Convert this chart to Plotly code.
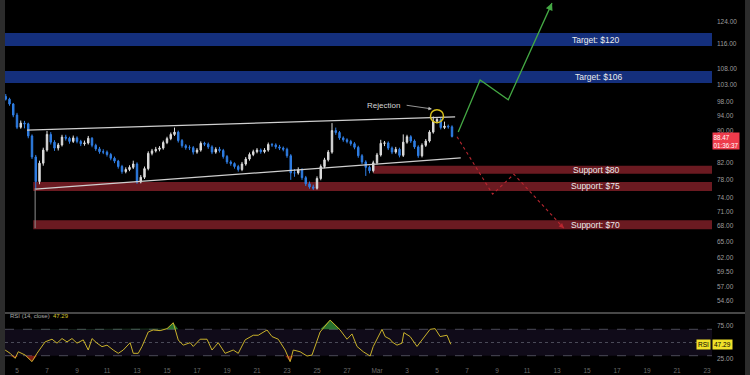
import math
import pandas as pd
import plotly.graph_objects as go

# ---------------- data ----------------
candle_start = "2025-02-04 06:00"
candle_freq = "6h"

opens = [99.5, 98.7, 97.3, 94.2, 90.9, 92.0, 91.8, 88.6, 83.3, 77.5,
         81.8, 85.0, 89.0, 87.0, 85.5, 86.3, 88.3, 88.0, 87.2, 88.1,
         87.2, 86.6, 86.8, 88.0, 86.2, 85.3, 84.6, 84.5, 83.9, 83.0,
         82.3, 81.0, 79.8, 80.3, 80.8, 81.6, 77.4, 78.5, 80.5, 84.2,
         84.8, 85.2, 85.5, 86.9, 87.9, 89.0, 89.6, 87.4, 86.1, 85.6,
         85.6, 84.5, 85.0, 86.7, 86.5, 85.8, 84.5, 85.2, 84.9, 83.4,
         82.1, 81.7, 81.0, 80.3, 81.6, 82.8, 83.9, 84.6, 85.0, 84.6,
         85.0, 86.4, 86.3, 85.8, 85.5, 85.2, 83.6, 79.5, 79.5, 80.2,
         78.4, 77.0, 76.3, 76.0, 78.2, 81.0, 82.6, 84.5, 90.0, 89.5,
         88.1, 87.6, 87.2, 86.6, 85.7, 83.6, 82.1, 80.8, 80.0, 81.9,
         83.8, 86.7, 86.8, 85.5, 84.5, 85.2, 83.7, 87.0, 88.4, 87.3,
         85.8, 83.6, 86.2, 87.3, 89.6, 92.5, 93.0, 90.8, 91.2, 91.0]
highs = [100.2, 99.1, 97.6, 94.8, 92.7, 92.6, 92.1, 89.0, 83.8, 82.4,
         85.6, 89.9, 89.6, 87.5, 86.8, 88.9, 88.9, 88.4, 88.7, 88.5,
         87.6, 87.4, 88.6, 88.3, 86.6, 85.8, 85.2, 84.9, 84.3, 83.4,
         82.6, 81.4, 80.8, 81.3, 82.4, 82.0, 79.0, 81.0, 84.7, 85.3,
         85.8, 86.0, 87.4, 88.4, 89.5, 90.8, 90.0, 87.8, 86.5, 86.2,
         86.0, 85.5, 87.2, 87.1, 86.9, 86.2, 85.7, 85.8, 85.3, 83.8,
         82.5, 82.0, 81.4, 82.1, 83.3, 84.4, 85.1, 85.5, 85.4, 85.5,
         86.9, 86.8, 86.7, 86.3, 85.9, 85.6, 84.0, 80.4, 80.8, 80.6,
         78.8, 77.5, 76.8, 78.7, 81.5, 83.1, 85.0, 92.0, 90.8, 89.9,
         88.5, 88.0, 87.6, 87.0, 86.1, 84.0, 82.5, 81.2, 82.4, 84.3,
         87.6, 87.3, 87.2, 85.9, 85.8, 85.6, 89.0, 88.9, 88.8, 87.7,
         86.2, 86.7, 87.8, 90.1, 93.8, 93.6, 93.4, 92.4, 91.6, 91.4]
lows = [98.3, 96.8, 93.6, 90.4, 90.5, 90.6, 88.0, 82.8, 75.8, 76.9,
        81.2, 84.6, 86.4, 84.8, 84.9, 85.9, 87.4, 86.6, 86.8, 86.7,
        86.0, 86.1, 86.4, 85.7, 84.8, 84.1, 84.0, 83.4, 82.5, 81.8,
        80.5, 79.3, 79.4, 79.9, 80.4, 77.0, 77.1, 78.1, 80.1, 83.7,
        84.4, 84.7, 85.1, 86.5, 87.5, 88.6, 86.9, 85.6, 85.1, 85.0,
        83.9, 84.1, 84.6, 86.0, 85.3, 84.0, 84.1, 84.4, 82.9, 81.6,
        81.2, 80.5, 79.8, 79.9, 81.2, 82.4, 83.5, 84.2, 84.1, 84.2,
        84.6, 85.8, 85.3, 85.0, 84.7, 83.1, 77.9, 78.6, 79.1, 77.9,
        76.5, 75.9, 75.6, 75.7, 77.8, 80.6, 82.2, 84.1, 88.9, 87.6,
        87.1, 86.7, 86.1, 85.2, 83.1, 81.6, 78.8, 79.4, 79.6, 81.5,
        83.4, 86.0, 85.0, 84.0, 84.1, 83.2, 83.3, 86.6, 86.8, 85.3,
        83.1, 83.2, 85.8, 86.9, 89.2, 92.0, 90.3, 90.4, 90.5, 88.2]
closes = [98.7, 97.3, 94.2, 90.9, 92.0, 91.8, 88.6, 83.3, 77.5, 81.8,
          85.0, 89.0, 87.0, 85.5, 86.3, 88.3, 88.0, 87.2, 88.1, 87.2,
          86.6, 86.8, 88.0, 86.2, 85.3, 84.6, 84.5, 83.9, 83.0, 82.3,
          81.0, 79.8, 80.3, 80.8, 81.6, 77.4, 78.5, 80.5, 84.2, 84.8,
          85.2, 85.5, 86.9, 87.9, 89.0, 89.6, 87.4, 86.1, 85.6, 85.6,
          84.5, 85.0, 86.7, 86.5, 85.8, 84.5, 85.2, 84.9, 83.4, 82.1,
          81.7, 81.0, 80.3, 81.6, 82.8, 83.9, 84.6, 85.0, 84.6, 85.0,
          86.4, 86.3, 85.8, 85.5, 85.2, 83.6, 79.5, 79.5, 80.2, 78.4,
          77.0, 76.3, 76.0, 78.2, 81.0, 82.6, 84.5, 90.0, 89.5, 88.1,
          87.6, 87.2, 86.6, 85.7, 83.6, 82.1, 80.8, 80.0, 81.9, 83.8,
          86.7, 86.8, 85.5, 84.5, 85.2, 83.7, 87.0, 88.4, 87.3, 85.8,
          83.6, 86.2, 87.3, 89.6, 92.5, 93.0, 90.8, 91.2, 91.0, 88.47]

rsi_times = ["2025-02-04 05:00", "2025-02-04 13:00", "2025-02-04 21:00", "2025-02-05 02:00",
             "2025-02-05 13:00", "2025-02-06 00:00", "2025-02-06 08:00", "2025-02-06 21:00",
             "2025-02-07 08:00", "2025-02-07 16:00", "2025-02-08 00:00", "2025-02-08 08:00",
             "2025-02-08 16:00", "2025-02-09 00:00", "2025-02-09 10:00", "2025-02-09 18:00",
             "2025-02-10 00:00", "2025-02-10 08:00", "2025-02-10 16:00", "2025-02-11 00:00",
             "2025-02-11 10:00", "2025-02-11 18:00", "2025-02-12 02:00", "2025-02-12 13:00",
             "2025-02-12 18:00", "2025-02-13 02:00", "2025-02-13 08:00", "2025-02-13 18:00",
             "2025-02-14 02:00", "2025-02-14 13:00", "2025-02-15 00:00", "2025-02-15 10:00",
             "2025-02-15 18:00", "2025-02-16 02:00", "2025-02-16 13:00", "2025-02-16 18:00",
             "2025-02-17 05:00", "2025-02-17 16:00", "2025-02-18 00:00", "2025-02-18 10:00",
             "2025-02-18 21:00", "2025-02-19 10:00", "2025-02-19 18:00", "2025-02-20 05:00",
             "2025-02-20 18:00", "2025-02-21 02:00", "2025-02-21 16:00", "2025-02-22 00:00",
             "2025-02-22 10:00", "2025-02-22 21:00", "2025-02-23 05:00", "2025-02-23 10:00",
             "2025-02-23 21:00", "2025-02-24 08:00", "2025-02-24 16:00", "2025-02-25 05:00",
             "2025-02-25 21:00", "2025-02-26 13:00", "2025-02-27 00:00", "2025-02-27 08:00",
             "2025-02-27 16:00", "2025-02-28 02:00", "2025-02-28 13:00", "2025-02-28 18:00",
             "2025-03-01 08:00", "2025-03-01 13:00", "2025-03-01 21:00", "2025-03-02 00:00",
             "2025-03-02 08:00", "2025-03-02 16:00", "2025-03-02 19:00", "2025-03-03 05:00",
             "2025-03-03 16:00", "2025-03-04 02:00", "2025-03-04 13:00", "2025-03-04 21:00",
             "2025-03-05 05:00", "2025-03-05 16:00", "2025-03-05 22:00"]
rsi_values = [38.6, 33.6, 26.0, 36.0, 31.0, 21.0, 33.6, 51.0,
              55.0, 49.0, 56.0, 51.0, 56.0, 49.0, 54.0, 38.6,
              56.0, 49.0, 43.7, 46.0, 38.6, 33.6, 38.6, 49.7,
              33.6, 33.6, 44.0, 66.0, 69.0, 68.0, 71.0, 80.0,
              53.8, 46.0, 49.7, 44.0, 55.0, 55.0, 38.6, 49.7,
              33.6, 38.6, 33.6, 54.0, 61.0, 61.0, 69.0, 59.0,
              55.0, 38.6, 21.0, 38.6, 36.0, 29.5, 31.0, 66.0,
              84.0, 69.0, 55.0, 63.0, 44.0, 36.0, 29.5, 44.0,
              70.0, 59.0, 55.0, 51.0, 46.0, 49.0, 65.0, 59.0,
              44.0, 56.0, 70.0, 71.0, 59.0, 61.0, 47.29]

# 86.00 sits under the last-price tag in the original, so it is not listed
price_ticks = [54.6, 57, 59.5, 62, 65, 68, 71, 74, 78, 82, 90, 94, 98, 103, 108, 116, 124, 132]
rsi_ticks = [25, 75]
date_ticks = ["2025-02-05", "2025-02-07", "2025-02-09", "2025-02-11", "2025-02-13", "2025-02-15",
              "2025-02-17", "2025-02-19", "2025-02-21", "2025-02-23", "2025-02-25", "2025-02-27",
              "2025-03-01", "2025-03-03", "2025-03-05", "2025-03-07", "2025-03-09", "2025-03-11",
              "2025-03-13", "2025-03-15", "2025-03-17", "2025-03-19", "2025-03-21", "2025-03-23"]
date_labels = ["5", "7", "9", "11", "13", "15", "17", "19", "21", "23", "25", "27",
               "Mar", "3", "5", "7", "9", "11", "13", "15", "17", "19", "21", "23"]

target_lows = [115.3, 103.5]
target_highs = [119.8, 107.2]
target_labels = ["Target: $120", "Target: $106"]

support_starts = ["2025-02-28 18:00", "2025-02-06 02:00", "2025-02-06 02:00"]
support_lows = [79.3, 75.4, 67.4]
support_highs = [81.2, 77.4, 69.2]
support_labels = ["Support $80", "Support: $75", "Support: $70"]

upper_line_t = ["2025-02-05 16:00", "2025-03-06 05:00"]
upper_line_p = [90.1, 93.7]
lower_line_t = ["2025-02-06 05:00", "2025-03-06 14:00"]
lower_line_p = [75.8, 83.1]
pivot_t = ["2025-02-06 05:00", "2025-02-06 05:00"]
pivot_p = [76.0, 67.6]

bull_t = ["2025-03-06 10:00", "2025-03-07 21:00", "2025-03-09 18:00", "2025-03-12 16:00"]
bull_p = [89.6, 104.4, 98.5, 130.8]
bear_t = ["2025-03-06 08:00", "2025-03-08 17:00", "2025-03-10 03:00", "2025-03-13 11:00"]
bear_p = [88.4, 74.7, 79.2, 67.6]

rejection_t = "2025-03-05 00:00"
rejection_p = 93.9
last_price = 88.47
countdown = "01:36:37"
rsi_last = 47.29

x_start = "2025-02-04 04:48"
x_end = "2025-03-23 08:00"

# ---------------- figure ----------------
times = pd.date_range(candle_start, periods=len(closes), freq=candle_freq)
L10 = math.log10

fig = go.Figure()

# RSI band
fig.add_shape(type="rect", xref="paper", yref="y2", x0=0, x1=1, y0=30, y1=70,
              fillcolor="rgba(126,87,194,0.13)", line_width=0, layer="below")
for lvl, d in [(70, "dash"), (50, "dot"), (30, "dash")]:
    fig.add_shape(type="line", xref="paper", yref="y2", x0=0, x1=1, y0=lvl, y1=lvl,
                  line=dict(color="#4a4a58", width=1, dash=d), layer="below")

# zones
for lo, hi in zip(target_lows, target_highs):
    fig.add_shape(type="rect", xref="paper", yref="y", x0=0, x1=1, y0=lo, y1=hi,
                  fillcolor="#142f7c", line_width=0, layer="below")
for st, lo, hi in zip(support_starts, support_lows, support_highs):
    fig.add_shape(type="rect", xref="x", yref="y", x0=st, x1=x_end, y0=lo, y1=hi,
                  fillcolor="#6b1a21", line_width=0, layer="below")

# pane separator and side strips
fig.add_shape(type="line", xref="paper", yref="paper", x0=0, x1=1.0467, y0=0.1425, y1=0.1425,
              line=dict(color="#474747", width=2))
fig.add_shape(type="rect", xref="paper", yref="paper", x0=-0.0071, x1=0, y0=-0.03, y1=1,
              fillcolor="#2c2c2c", line_width=0)
fig.add_shape(type="rect", xref="paper", yref="paper", x0=1.0467, x1=1.06, y0=-0.03, y1=1,
              fillcolor="#2c2c2c", line_width=0)

# channel lines
fig.add_trace(go.Scatter(x=upper_line_t, y=upper_line_p, mode="lines",
                         line=dict(color="#cfcfcf", width=1.3), hoverinfo="skip"))
fig.add_trace(go.Scatter(x=lower_line_t, y=lower_line_p, mode="lines",
                         line=dict(color="#cfcfcf", width=1.3), hoverinfo="skip"))
fig.add_trace(go.Scatter(x=pivot_t, y=pivot_p, mode="lines",
                         line=dict(color="#8f8f8f", width=1), hoverinfo="skip"))

# candles
fig.add_trace(go.Candlestick(
    x=times, open=opens, high=highs, low=lows, close=closes,
    increasing=dict(line=dict(color="#dcdcdc", width=1), fillcolor="#dcdcdc"),
    decreasing=dict(line=dict(color="#2f7de3", width=1), fillcolor="#2f7de3"),
    whiskerwidth=0, hoverinfo="skip"))

# scenario paths
fig.add_trace(go.Scatter(x=bull_t, y=bull_p, mode="lines",
                         line=dict(color="#44a844", width=1.3), hoverinfo="skip"))
fig.add_trace(go.Scatter(x=bear_t, y=bear_p, mode="lines",
                         line=dict(color="#b8262f", width=1.1, dash="dot"), hoverinfo="skip"))

# rejection circle
fig.add_trace(go.Scatter(x=[rejection_t], y=[rejection_p], mode="markers",
                         marker=dict(symbol="circle-open", size=13, color="#d9c21c",
                                     line=dict(width=1.5, color="#d9c21c")), hoverinfo="skip"))

# RSI
base70 = [70] * len(rsi_values)
base30 = [30] * len(rsi_values)
fig.add_trace(go.Scatter(x=rsi_times, y=base70, yaxis="y2", mode="lines",
                         line=dict(width=0), hoverinfo="skip"))
fig.add_trace(go.Scatter(x=rsi_times, y=[max(v, 70) for v in rsi_values], yaxis="y2", mode="lines",
                         line=dict(width=0), fill="tonexty", fillcolor="rgba(60,170,70,0.65)",
                         hoverinfo="skip"))
fig.add_trace(go.Scatter(x=rsi_times, y=base30, yaxis="y2", mode="lines",
                         line=dict(width=0), hoverinfo="skip"))
fig.add_trace(go.Scatter(x=rsi_times, y=[min(v, 30) for v in rsi_values], yaxis="y2", mode="lines",
                         line=dict(width=0), fill="tonexty", fillcolor="rgba(190,40,30,0.65)",
                         hoverinfo="skip"))
fig.add_trace(go.Scatter(x=rsi_times, y=rsi_values, yaxis="y2", mode="lines",
                         line=dict(color="#c9b22a", width=1), hoverinfo="skip"))

ann = []
for lo, hi, txt, xp in zip(target_lows, target_highs, target_labels, [0.799, 0.803]):
    ann.append(dict(x=xp, xref="paper", y=L10(math.sqrt(lo * hi)), yref="y", text=txt,
                    showarrow=False, xanchor="left", font=dict(size=8.5, color="#ececec")))
for lo, hi, txt in zip(support_lows, support_highs, support_labels):
    ann.append(dict(x=0.873, xref="paper", y=L10(math.sqrt(lo * hi)), yref="y", text=txt,
                    showarrow=False, xanchor="right", font=dict(size=8.5, color="#ececec")))

# arrowheads
ann.append(dict(x=bull_t[-1], y=L10(bull_p[-1]), xref="x", yref="y", ax=-3, ay=7,
                text="", showarrow=True, arrowhead=2, arrowsize=1.1, arrowwidth=1.3,
                arrowcolor="#44a844"))
ann.append(dict(x=bear_t[-1], y=L10(bear_p[-1]), xref="x", yref="y", ax=-5, ay=-5,
                text="", showarrow=True, arrowhead=2, arrowsize=1.0, arrowwidth=1,
                arrowcolor="#b8262f"))

# rejection label + arrow
ann.append(dict(x="2025-03-01 11:00", y=L10(97.0), xref="x", yref="y", text="Rejection",
                showarrow=False, font=dict(size=8, color="#d6d6d6")))
ann.append(dict(x="2025-03-04 16:00", y=L10(95.9), xref="x", yref="y",
                ax="2025-03-02 21:00", ay=L10(97.0), axref="x", ayref="y",
                text="", showarrow=True, arrowhead=2, arrowsize=0.9, arrowwidth=0.8,
                arrowcolor="#bdbdbd"))

# last price box
ann.append(dict(x=1, xref="paper", y=L10(87.3), yref="y", xanchor="left",
                text=f"{last_price:.2f}<br>{countdown}", showarrow=False, align="left",
                bgcolor="#ee3b4b", borderpad=0.5, font=dict(size=6.3, color="#ffffff")))
# RSI boxes
ann.append(dict(x=1, xref="paper", y=rsi_last, yref="y2", xanchor="right", xshift=-1,
                text="RSI", showarrow=False, bgcolor="#f0e02a", borderpad=1,
                font=dict(size=6.5, color="#000000")))
ann.append(dict(x=1, xref="paper", y=rsi_last, yref="y2", xanchor="left",
                text=f"{rsi_last:.2f}", showarrow=False, bgcolor="#f0e02a", borderpad=1,
                font=dict(size=6.5, color="#000000")))
ann.append(dict(x=0.004, xref="paper", y=0.1205, yref="paper", xanchor="left",
                text=f"RSI (14, close)  <span style='color:#d6c42c'>{rsi_last:.2f}</span>",
                showarrow=False, font=dict(size=6, color="#a8a8a8")))

fig.update_layout(
    width=750, height=375,
    margin=dict(l=5, r=38, t=0, b=10),
    paper_bgcolor="#000000", plot_bgcolor="#000000",
    showlegend=False, hovermode=False, boxgap=0.45,
    font=dict(family="Liberation Sans, Arial, sans-serif", size=7, color="#9a9a9a"),
    xaxis=dict(type="date", range=[x_start, x_end], anchor="y2",
               tickvals=date_ticks, ticktext=date_labels,
               showgrid=False, zeroline=False, showline=False, ticks="",
               tickfont=dict(size=6.5, color="#6a6a6a"),
               rangeslider=dict(visible=False)),
    yaxis=dict(type="log", domain=[0.1452, 1], range=[L10(52.87), L10(132.0)],
               side="right", anchor="x", tickvals=price_ticks,
               ticktext=[f"{v:.2f}" for v in price_ticks], ticklabelstandoff=4,
               showgrid=False, zeroline=False, showline=False, ticks="",
               tickfont=dict(size=6.5, color="#9c9c9c")),
    yaxis2=dict(domain=[0, 0.1397], range=[15.9, 93.2], side="right", anchor="x",
                tickvals=rsi_ticks, ticktext=[f"{v:.2f}" for v in rsi_ticks],
                ticklabelstandoff=4,
                showgrid=False, zeroline=False, showline=False, ticks="",
                tickfont=dict(size=6.5, color="#9c9c9c")),
    annotations=ann,
)

fig.write_html("out.html", config={"displayModeBar": False},
               post_script="document.body.style.margin='0px';document.body.style.background='#000';")
